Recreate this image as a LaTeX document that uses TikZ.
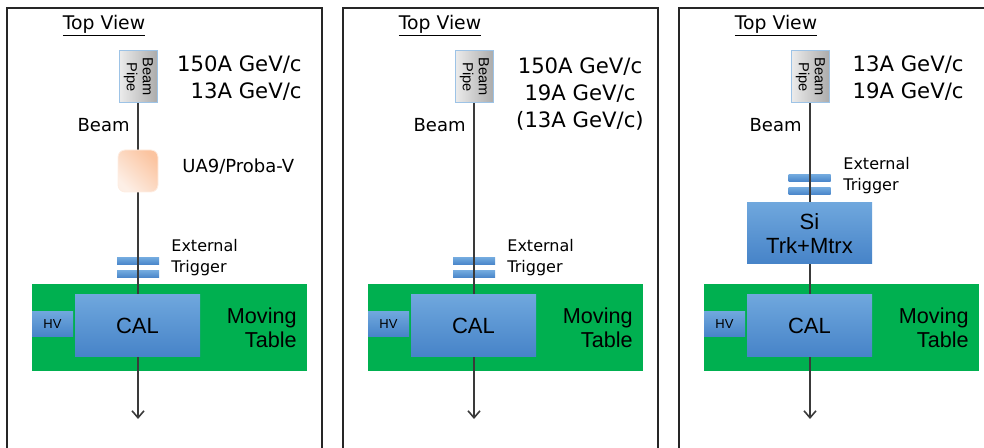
\documentclass[tikz,border=0pt]{standalone}
\usepackage{fontspec}
\setmainfont{DejaVu Sans}
\newfontfamily\arialfont{Liberation Sans}
\usetikzlibrary{arrows.meta}

\definecolor{tablegreen}{HTML}{00B050}
\definecolor{boxtop}{HTML}{6FA7DD}
\definecolor{boxbot}{HTML}{4683C8}
\definecolor{pipeedge}{HTML}{9DC3E6}
\definecolor{beamgray}{HTML}{3A3A3A}
\definecolor{peach}{HTML}{FBC4A0}
\definecolor{peachlight}{HTML}{FDEFE6}

\newcommand{\pipetext}{\rotatebox{-90}{\begin{tabular}{@{}c@{}}Beam\\Pipe\end{tabular}}}

\begin{document}
\begin{tikzpicture}[x=0.5pt, y=-0.5pt,
    frame/.style={draw=black!85, line width=1pt},
    beam/.style={draw=beamgray, line width=0.8pt, -{Straight Barb[length=3.5pt,width=6pt]}},
    pipe/.style={draw=pipeedge, line width=0.5pt, left color=gray!15, right color=gray!65,
        minimum width=19pt, minimum height=26pt, inner sep=0pt,
        font=\arialfont\fontsize{7.3}{8}\selectfont},
    ua9box/.style={draw=peach!30, line width=0.4pt, rounded corners=3.5pt, top color=peach,
        bottom color=peachlight, shading angle=-45, minimum width=20pt, minimum height=21pt},
    trigbar/.style={top color=boxtop, bottom color=boxbot, minimum width=21pt,
        minimum height=3.5pt, inner sep=0pt},
    bluebox/.style={top color=boxtop, bottom color=boxbot, inner sep=0pt, align=center,
        font=\arialfont\fontsize{11}{12}\selectfont},
    hvbox/.style={top color=boxtop, bottom color=boxbot, minimum width=20.5pt,
        minimum height=12.5pt, inner sep=0pt, font=\arialfont\fontsize{6.5}{7.5}\selectfont},
    movetable/.style={fill=tablegreen, minimum width=137.5pt, minimum height=43.5pt, inner sep=0pt},
    movetext/.style={anchor=east, align=right, inner sep=0pt,
        font=\arialfont\fontsize{10.8}{12}\selectfont},
    titletext/.style={inner sep=0pt, font=\fontsize{9.4}{11}\selectfont},
    energytext/.style={inner sep=0pt, font=\fontsize{10.6}{13.5}\selectfont},
    beamtext/.style={anchor=east, inner sep=0pt, font=\fontsize{9}{11}\selectfont},
    smalltext/.style={anchor=west, align=left, inner sep=0pt, font=\fontsize{8}{10.5}\selectfont}
]
    \useasboundingbox (0,0) rectangle (984,448);
    \clip (0,0) rectangle (984,448);

    % ---------------- left panel: UA9 / Proba-V ----------------
    \draw[frame] (7,448) -- (7,8) -- (322,8) -- (322,448);
    \node[titletext] (title1) at (104,26) {\underline{Top View}};
    \node[pipe] (pipe1) at (138,77) {\pipetext};
    \node[energytext, anchor=east, align=right] (energy1) at (302,78) {150A GeV/c\\13A GeV/c};
    \node[beamtext] (beamlbl1) at (130,125) {Beam};

    \node[movetable] (table1) at (169.5,327.5) {};
    \node[hvbox] (hv1) at (52.5,324.5) {HV};
    \node[trigbar] (trigA1) at (138,261.5) {};
    \node[trigbar] (trigB1) at (138,274.5) {};
    \node[smalltext] (triglbl1) at (171,258) {External\\Trigger};

    \coordinate (end1) at (138,419);
    \draw[beam] (pipe1.south) -- (end1);

    \node[ua9box] (ua91) at (138,171) {};
    \node[anchor=west, inner sep=0pt, font=\fontsize{9}{11}\selectfont] (ua9lbl1) at (182,167) {UA9/Proba-V};
    \node[bluebox, minimum width=62.5pt, minimum height=31pt] (cal1) at (137.5,326) {CAL};
    \node[movetext] (movelbl1) at (297,328) {Moving\\Table};

    % ---------------- middle panel ----------------
    \draw[frame] (343,448) -- (343,8) -- (658,8) -- (658,448);
    \node[titletext] (title2) at (440,26) {\underline{Top View}};
    \node[pipe] (pipe2) at (474,77) {\pipetext};
    \node[energytext, align=center] (energy2) at (580,94) {150A GeV/c\\19A GeV/c\\(13A GeV/c)};
    \node[beamtext] (beamlbl2) at (466,125) {Beam};

    \node[movetable] (table2) at (505.5,327.5) {};
    \node[hvbox] (hv2) at (388.5,324.5) {HV};
    \node[trigbar] (trigA2) at (474,261.5) {};
    \node[trigbar] (trigB2) at (474,274.5) {};
    \node[smalltext] (triglbl2) at (507,258) {External\\Trigger};

    \coordinate (end2) at (474,419);
    \draw[beam] (pipe2.south) -- (end2);

    \node[bluebox, minimum width=62.5pt, minimum height=31pt] (cal2) at (473.5,326) {CAL};
    \node[movetext] (movelbl2) at (633,328) {Moving\\Table};

    % ---------------- right panel: Si tracker ----------------
    \draw[frame] (679,448) -- (679,8) -- (994,8) -- (994,448);
    \node[titletext] (title3) at (776,26) {\underline{Top View}};
    \node[pipe] (pipe3) at (810,77) {\pipetext};
    \node[energytext, anchor=east, align=right] (energy3) at (964,78) {13A GeV/c\\19A GeV/c};
    \node[beamtext] (beamlbl3) at (802,125) {Beam};

    \node[trigbar] (trigA3) at (809.5,178.5) {};
    \node[trigbar] (trigB3) at (809.5,191.5) {};
    \node[smalltext] (triglbl3) at (843,176) {External\\Trigger};
    \node[movetable] (table3) at (841.5,327.5) {};
    \node[hvbox] (hv3) at (724.5,324.5) {HV};

    \coordinate (end3) at (810,419);
    \draw[beam] (pipe3.south) -- (end3);

    \node[bluebox, minimum width=62.5pt, minimum height=30.5pt] (si3) at (809.5,233.5) {Si\\Trk+Mtrx};
    \node[bluebox, minimum width=62.5pt, minimum height=31pt] (cal3) at (809.5,326) {CAL};
    \node[movetext] (movelbl3) at (969,328) {Moving\\Table};

\end{tikzpicture}
\end{document}
